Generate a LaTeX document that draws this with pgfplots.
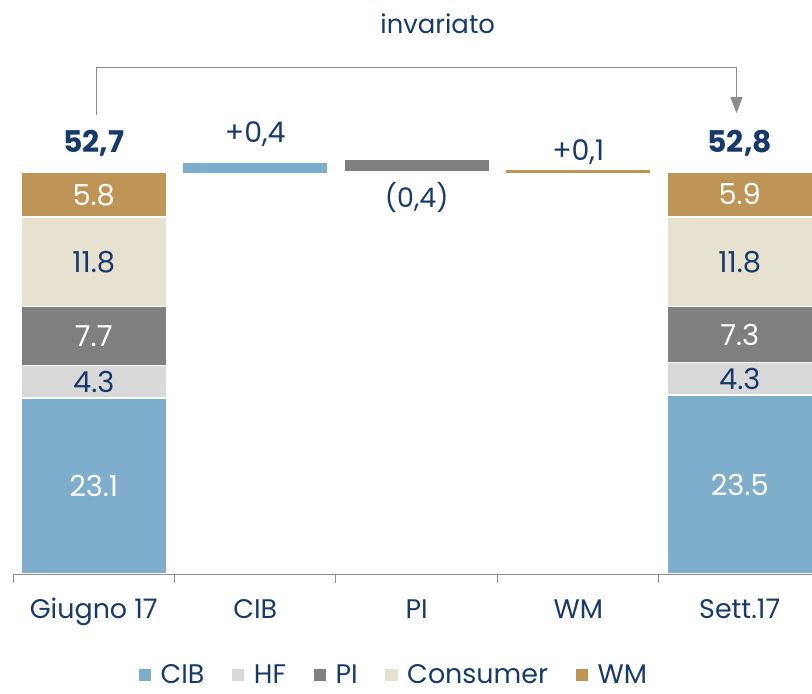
\documentclass[border=0pt]{standalone}
\usepackage{fontspec}
\setmainfont{Poppins}
\usepackage{pgfplots}
\pgfplotsset{compat=1.18}
\usetikzlibrary{arrows.meta}
\definecolor{cib}{HTML}{7FAECC}
\definecolor{hf}{HTML}{D9D9D9}
\definecolor{pi}{HTML}{7F7F7F}
\definecolor{cons}{HTML}{E7E1D0}
\definecolor{wm}{HTML}{BE9457}
\definecolor{txt}{HTML}{173A6A}
\definecolor{axc}{HTML}{8C8C96}
\definecolor{brk}{HTML}{8C8C8C}
\newcommand{\fs}[1]{\fontsize{#1}{#1}\selectfont}
\begin{document}
\begin{tikzpicture}
\path[use as bounding box] (0,0) rectangle (812bp,694bp);
\begin{axis}[
  at={(13bp,120bp)}, anchor=south west,
  scale only axis, width=799.4bp, height=457bp,
  xmin=-0.5, xmax=4.45, ymin=0, ymax=60,
  ybar stacked, bar width=0.9,
  axis x line*=bottom, axis y line=none,
  axis line style={axc, line width=1bp},
  axis on top,
  xtick={0,1,2,3,4},
  xticklabels={Giugno 17, CIB, PI, WM, Sett.17},
  major x tick style={draw=none},
  minor xtick={-0.5,0.5,1.5,2.5,3.5},
  minor tick length=9bp,
  tick align=outside,
  minor x tick style={axc, line width=1bp},
  xticklabel style={font=\fs{27}, text=txt, anchor=base, yshift=-40bp},
  clip=false,
  legend columns=5,
  legend style={draw=none, fill=none, at={(rel axis cs:0.4754,-0.221)}, anchor=center,
    font=\fs{27}, text=txt, inner sep=0pt,
    /tikz/every even column/.append style={column sep=24bp},
    /tikz/every odd column/.append style={column sep=6bp}},
  legend image code/.code={\fill[#1] (0bp,-7bp) rectangle (14bp,7bp);},
]
\addplot+[forget plot, fill=none, draw=none] coordinates {(0,0) (1,52.5) (2,52.75) (3,52.6) (4,0)};
\addplot+[fill=cib, draw=white, line width=1.5bp] coordinates {(0,23.1) (1,1.55) (2,0) (3,0) (4,23.5)};
\addplot+[fill=hf, draw=white, line width=1.5bp] coordinates {(0,4.3) (1,0) (2,0) (3,0) (4,4.3)};
\addplot+[fill=pi, draw=white, line width=1.5bp] coordinates {(0,7.7) (1,0) (2,1.7) (3,0) (4,7.3)};
\addplot+[fill=cons, draw=white, line width=1.5bp] coordinates {(0,11.8) (1,0) (2,0) (3,0) (4,11.8)};
\addplot+[fill=wm, draw=white, line width=1.5bp] coordinates {(0,5.8) (1,0) (2,0) (3,0.6) (4,5.9)};
\legend{CIB, HF, PI, Consumer, WM}
\coordinate (g1) at (axis cs:0,11.55);
\coordinate (g2) at (axis cs:0,25.25);
\coordinate (g3) at (axis cs:0,31.25);
\coordinate (g4) at (axis cs:0,41.0);
\coordinate (g5) at (axis cs:0,49.8);
\coordinate (s1) at (axis cs:4,11.75);
\coordinate (s2) at (axis cs:4,25.65);
\coordinate (s3) at (axis cs:4,31.45);
\coordinate (s4) at (axis cs:4,41.0);
\coordinate (s5) at (axis cs:4,49.85);
\coordinate (t1) at (axis cs:0,56.56);
\coordinate (t2) at (axis cs:4,56.56);
\coordinate (d1) at (axis cs:1,57.74);
\coordinate (d2) at (axis cs:2,49.5);
\coordinate (d3) at (axis cs:3,55.4);
\coordinate (inv) at (axis cs:2.13,72.2);
\coordinate (b1) at (axis cs:0.02,60.2);
\coordinate (b2) at (axis cs:0.02,66.5);
\coordinate (b3) at (axis cs:3.98,66.5);
\coordinate (b4) at (axis cs:3.98,62.7);
\coordinate (b5) at (axis cs:3.98,60.5);
\end{axis}
\node[text=white, font=\fs{29}] at (g1) {23.1};
\node[text=txt, font=\fs{29}] at (g2) {4.3};
\node[text=white, font=\fs{29}] at (g3) {7.7};
\node[text=txt, font=\fs{29}] at (g4) {11.8};
\node[text=white, font=\fs{29}] at (g5) {5.8};
\node[text=white, font=\fs{29}] at (s1) {23.5};
\node[text=txt, font=\fs{29}] at (s2) {4.3};
\node[text=white, font=\fs{29}] at (s3) {7.3};
\node[text=txt, font=\fs{29}] at (s4) {11.8};
\node[text=white, font=\fs{29}] at (s5) {5.9};
\node[text=txt, font=\fs{30}\bfseries] at (t1) {52,7};
\node[text=txt, font=\fs{30}\bfseries] at (t2) {52,8};
\node[text=txt, font=\fs{28.5}] at (d1) {+0,4};
\node[text=txt, font=\fs{27}] at (d2) {(0,4)};
\node[text=txt, font=\fs{28.5}] at (d3) {+0,1};
\node[text=txt, font=\fs{26}] at (inv) {invariato};
\draw[brk, line width=1bp] (b1) -- (b2) -- (b3) -- (b4);
\draw[brk, line width=1bp, -{Triangle[width=12bp,length=16bp]}] (b4) -- (b5);
\end{tikzpicture}
\end{document}
